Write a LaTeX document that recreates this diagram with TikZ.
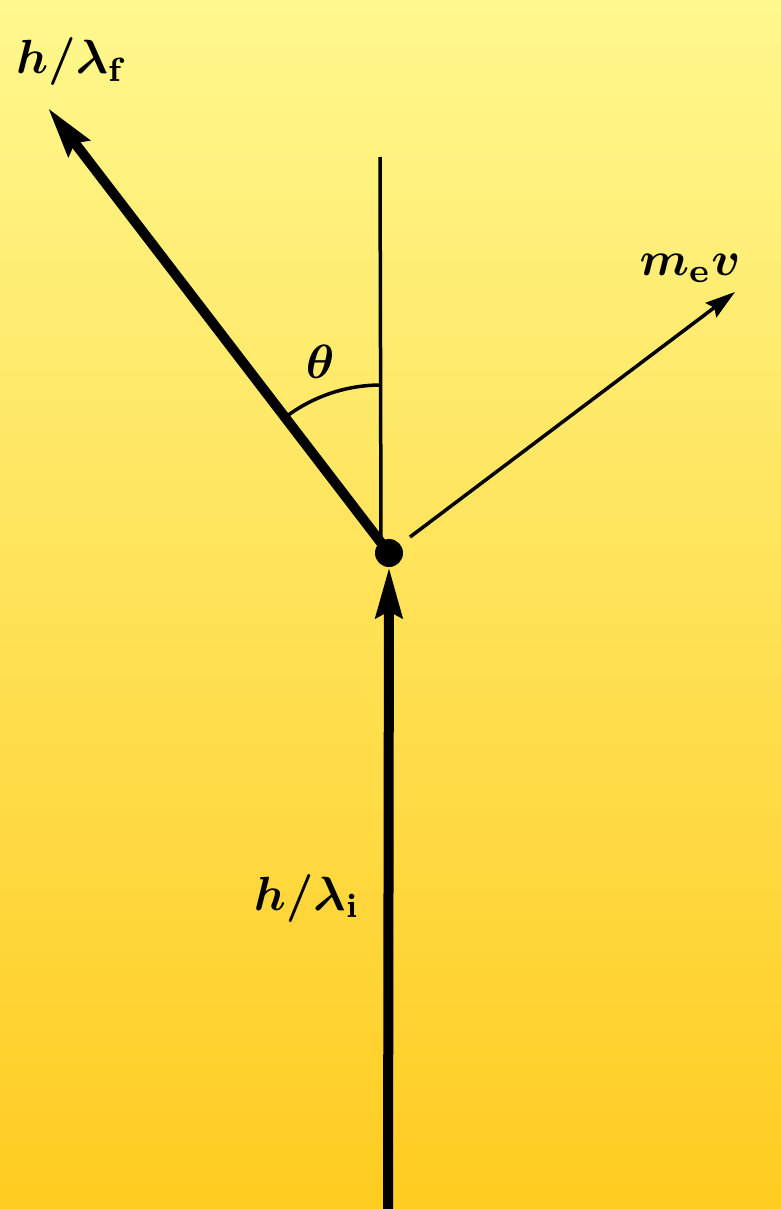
\documentclass[tikz,border=0pt]{standalone}
\usepackage{amsmath}
\usepackage{amssymb}
\usepackage{graphicx}
\usepackage{tikz}
\usetikzlibrary{arrows.meta}
\definecolor{bgtop}{RGB}{255,248,142}
\definecolor{bgmid}{RGB}{255,224,84}
\definecolor{bgbot}{RGB}{255,204,32}
\newcommand{\biglbl}[1]{\scalebox{4.8}{\boldmath$#1$}}

\begin{document}
\begin{tikzpicture}[x=1pt,y=-1pt,
		thickvec/.style={line width=10pt,-{Stealth[length=50pt,width=26pt,inset=6pt]}},
		thinvec/.style={line width=3.5pt,-{Stealth[length=30pt,width=18pt,inset=4pt]}},
		lbl/.style={inner sep=0pt}]
			\shade[top color=bgtop,middle color=bgmid,bottom color=bgbot] (0,0) rectangle (781,1209);
			\useasboundingbox (0,0) rectangle (781,1209);
			\node[circle,fill=black,inner sep=0pt,minimum size=28pt] (dot) at (389,553) {};
			\coordinate (V) at (381,543);
			\coordinate (top) at (380,157);
			\coordinate (ftip) at (48,108);
			\coordinate (estart) at (410,537);
			\coordinate (etip) at (735,292);
			\coordinate (ibot) at (388,1212);
			\draw[line width=3.5pt] (top) -- (V);
			\draw[thickvec] (dot.center) -- (ftip);
			\draw[thinvec] (estart) -- (etip);
			\draw[thickvec] (ibot) -- (dot.south);
			\draw[line width=3.5pt] (V) ++(0,-158) arc[start angle=-90,end angle=-127.5,radius=158];
			\node[lbl] (theta) at (320,362) {\biglbl{\theta}};
			\node[lbl] (pf) at (72,62) {\biglbl{h/\lambda_{\mathrm{f}}}};
			\node[lbl] (pe) at (690,268) {\biglbl{m_{\mathrm{e}}v}};
			\node[lbl] (pi) at (307,898) {\biglbl{h/\lambda_{\mathrm{i}}}};
		\end{tikzpicture}
\end{document}
